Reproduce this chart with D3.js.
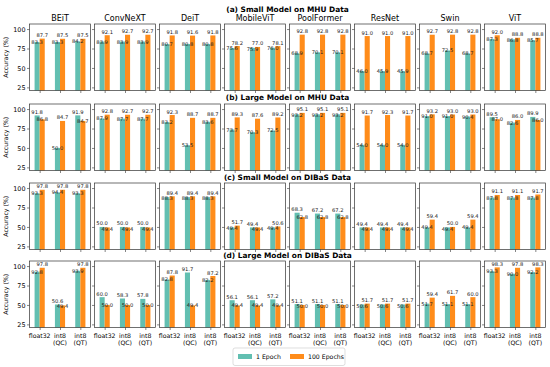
<!DOCTYPE html>
<html>
<head>
<meta charset="utf-8">
<script src="https://cdn.jsdelivr.net/npm/d3@7"></script>
<style>
  html, body { margin: 0; padding: 0; background: #fff; }
  svg { display: block; font-family: "DejaVu Sans", sans-serif; }
</style>
</head>
<body>
<svg id="chart" width="550" height="367"></svg>
<script>
// ---------------- data ----------------
const models = ["BEiT", "ConvNeXT", "DeiT", "MobileViT", "PoolFormer", "ResNet", "Swin", "ViT"];
const precisions = ["float32", "int8 (QC)", "int8 (QT)"];
const precisionLines = [["float32"], ["int8", "(QC)"], ["int8", "(QT)"]];
const rowTitles = [
  "(a) Small Model on MHU Data",
  "(b) Large Model on MHU Data",
  "(c) Small Model on DIBaS Data",
  "(d) Large Model on DIBaS Data"
];
const seriesNames = ["1 Epoch", "100 Epochs"];
const yTicks = [25, 50, 75, 100];

// (a) Small Model on MHU Data
const smallMHU_1ep = [
  [83.3, 83.3, 84.2], [83.9, 83.9, 83.9], [80.7, 80.8, 80.8], [75.6, 75.9, 76.0],
  [68.9, 70.1, 70.1], [46.0, 45.9, 45.9], [68.7, 72.5, 68.7], [87.3, 86.8, 85.7]
];
const smallMHU_100ep = [
  [87.7, 87.5, 87.5], [92.1, 92.7, 92.7], [91.8, 91.6, 91.8], [78.2, 77.0, 78.1],
  [92.8, 92.8, 92.8], [91.0, 91.0, 91.0], [92.7, 92.8, 92.8], [92.0, 88.8, 88.8]
];
// (b) Large Model on MHU Data
const largeMHU_1ep = [
  [91.8, 50.0, 91.9], [87.9, 87.7, 87.7], [83.2, 53.5, 83.6], [73.7, 70.3, 72.5],
  [93.2, 93.2, 93.2], [54.0, 54.0, 54.0], [91.0, 91.0, 90.4], [89.5, 82.6, 89.9]
];
const largeMHU_100ep = [
  [86.8, 84.7, 84.7], [92.8, 92.7, 92.7], [92.3, 88.7, 88.7], [89.3, 87.6, 89.2],
  [95.1, 95.1, 95.1], [91.7, 92.3, 91.7], [93.2, 93.0, 93.0], [87.0, 86.0, 86.0]
];
// (c) Small Model on DIBaS Data
const smallDIBaS_1ep = [
  [93.3, 94.4, 93.3], [50.0, 50.0, 50.0], [88.3, 88.3, 88.3], [49.4, 49.4, 49.4],
  [68.3, 67.2, 67.2], [49.4, 49.4, 49.4], [49.4, 49.4, 49.4], [87.8, 87.8, 87.8]
];
const smallDIBaS_100ep = [
  [97.8, 97.8, 97.8], [49.4, 49.4, 49.4], [89.4, 89.4, 89.4], [51.7, 49.4, 50.6],
  [62.8, 62.8, 62.8], [49.4, 49.4, 49.4], [59.4, 50.0, 59.4], [91.1, 91.1, 91.7]
];
// (d) Large Model on DIBaS Data
const largeDIBaS_1ep = [
  [92.8, 50.6, 93.9], [60.0, 58.3, 57.8], [82.8, 91.7, 82.2], [56.1, 56.1, 57.2],
  [51.1, 51.1, 51.1], [50.6, 50.6, 50.6], [51.7, 51.1, 51.1], [93.3, 90.0, 92.2]
];
const largeDIBaS_100ep = [
  [97.8, 49.4, 97.8], [50.0, 50.0, 50.0], [87.8, 49.4, 87.2], [49.4, 49.4, 49.4],
  [50.0, 50.0, 50.0], [51.7, 51.7, 51.7], [59.4, 61.7, 60.0], [98.3, 97.8, 98.3]
];

const rowsData = [
  [smallMHU_1ep, smallMHU_100ep],
  [largeMHU_1ep, largeMHU_100ep],
  [smallDIBaS_1ep, smallDIBaS_100ep],
  [largeDIBaS_1ep, largeDIBaS_100ep]
];

// ---------------- layout ----------------
const colors = ["#62bfb1", "#ff8c1a"];
const panelW = 61, colStep = 65, left0 = 29.5;
const panelH = 66.5;
const rowTops = [24, 104, 183, 261];
const rowTitleY = [11.5, 100, 179.5, 257.5];
const yDomain = [21, 106.5];
const barW = 0.25;

const svg = d3.select("#chart");

const x = d3.scaleLinear().domain([-0.5, 2.5]).range([0, panelW]);
const y = d3.scaleLinear().domain(yDomain).range([panelH, 0]);

rowsData.forEach((series, r) => {
  // row title
  svg.append("text")
    .attr("x", left0 + (7 * colStep + panelW) / 2)
    .attr("y", rowTitleY[r])
    .attr("text-anchor", "middle")
    .attr("font-size", 7.4)
    .attr("font-weight", "bold")
    .attr("fill", "#000")
    .text(rowTitles[r]);

  models.forEach((m, c) => {
    const g = svg.append("g")
      .attr("transform", `translate(${left0 + c * colStep},${rowTops[r]})`);

    // bars
    series.forEach((vals, s) => {
      const off = s === 0 ? -barW / 2 : barW / 2;
      g.selectAll(null)
        .data(vals[c])
        .enter().append("rect")
        .attr("x", (d, i) => x(i + off - barW / 2))
        .attr("width", x(barW) - x(0))
        .attr("y", d => y(d))
        .attr("height", d => y(yDomain[0]) - y(d))
        .attr("fill", colors[s]);
    });

    // value labels: the taller bar's label sits above it, the shorter one's on its top
    precisions.forEach((p, i) => {
      const t = series[0][c][i], o = series[1][c][i];
      const topT = y(t), topO = y(o);
      const hi = Math.min(topT, topO);
      [t, o].forEach((v, s) => {
        const off = s === 0 ? -barW / 2 : barW / 2;
        const higher = (s === 0) ? (t >= o) : (o > t);
        let yy;
        if (higher) {
          yy = y(v) - 1.5;
        } else {
          // keep the lower label at its bar top but clear of the upper label
          yy = Math.max(y(v) + 2, hi - 1.5 + 5.4);
        }
        g.append("text")
          .attr("x", x(i + off))
          .attr("y", yy)
          .attr("text-anchor", "middle")
          .attr("font-size", 5.2)
          .attr("fill", "#222")
          .text(v.toFixed(1));
      });
    });

    // y axis
    const yAxis = d3.axisLeft(y).tickValues(yTicks).tickSize(2.5).tickPadding(1.5)
      .tickFormat(c === 0 ? d3.format("d") : () => "");
    const ya = g.append("g").call(yAxis);
    ya.select(".domain").remove();
    ya.selectAll("text").attr("font-size", 6.4).attr("fill", "#000").style("font-family", "DejaVu Sans");
    ya.selectAll("line").attr("stroke", "#333").attr("stroke-width", 0.6);

    // x axis
    const xAxis = d3.axisBottom(x).tickValues([0, 1, 2]).tickSize(2.5).tickFormat(() => "");
    const xa = g.append("g").attr("transform", `translate(0,${panelH})`).call(xAxis);
    xa.select(".domain").remove();
    xa.selectAll("line").attr("stroke", "#333").attr("stroke-width", 0.6);

    if (r === rowsData.length - 1) {
      precisionLines.forEach((lines, i) => {
        const tx = g.append("text")
          .attr("x", x(i))
          .attr("y", panelH + 10)
          .attr("text-anchor", "middle")
          .attr("font-size", 6.2)
          .attr("fill", "#000");
        lines.forEach((ln, k) => {
          tx.append("tspan").attr("x", x(i)).attr("dy", k === 0 ? 0 : 7.6).text(ln);
        });
      });
    }

    // frame
    g.append("rect")
      .attr("x", 0).attr("y", 0)
      .attr("width", panelW).attr("height", panelH)
      .attr("fill", "none").attr("stroke", "#333").attr("stroke-width", 0.7);

    // model titles on first row
    if (r === 0) {
      g.append("text")
        .attr("x", panelW / 2)
        .attr("y", -3.5)
        .attr("text-anchor", "middle")
        .attr("font-size", 8)
        .attr("fill", "#000")
        .text(m);
    }

    // y label
    if (c === 0) {
      g.append("text")
        .attr("transform", `translate(${-21.5},${panelH / 2}) rotate(-90)`)
        .attr("text-anchor", "middle")
        .attr("font-size", 6.2)
        .attr("fill", "#000")
        .text("Accuracy (%)");
    }
  });
});

// legend
const legend = svg.append("g").attr("transform", "translate(233,348)");
legend.append("rect")
  .attr("x", 0).attr("y", 0).attr("width", 112).attr("height", 17.5)
  .attr("rx", 2).attr("fill", "#fff").attr("stroke", "#d0d0d0").attr("stroke-width", 0.7);
const legX = [5, 57];
seriesNames.forEach((nm, s) => {
  legend.append("rect")
    .attr("x", legX[s]).attr("y", 6).attr("width", 14).attr("height", 5)
    .attr("fill", colors[s]);
  legend.append("text")
    .attr("x", legX[s] + 18).attr("y", 11)
    .attr("font-size", 6.2).attr("fill", "#000")
    .text(nm);
});
</script>
</body>
</html>
